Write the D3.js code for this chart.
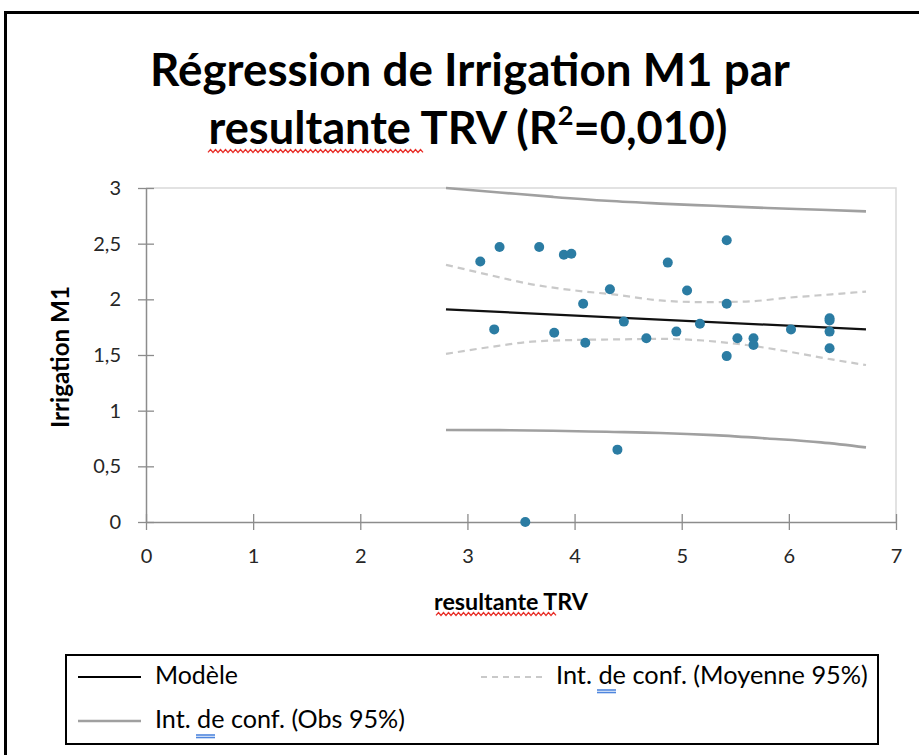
<!DOCTYPE html>
<html>
<head>
<meta charset="utf-8">
<script src="https://cdn.jsdelivr.net/npm/d3@7/dist/d3.min.js"></script>
<style>
  html, body { margin: 0; padding: 0; background: #fff; }
  svg { display: block; }
</style>
</head>
<body>
<svg id="chart" width="919" height="755"></svg>
<script>
// Observations: resultante TRV (x) vs Irrigation M1 (y)
const obsX = [3.12, 3.30, 3.67, 3.90, 3.97, 4.87, 4.33, 4.08, 3.25, 3.81, 4.10, 4.46, 4.67, 4.95,
              5.42, 5.05, 5.42, 5.17, 5.52, 5.67, 5.67, 5.42, 6.02, 6.38, 6.38, 6.38, 6.38, 4.40, 3.54];
const obsY = [2.34, 2.47, 2.47, 2.40, 2.41, 2.33, 2.09, 1.96, 1.73, 1.70, 1.61, 1.80, 1.65, 1.71,
              2.53, 2.08, 1.96, 1.78, 1.65, 1.65, 1.59, 1.49, 1.73, 1.83, 1.81, 1.71, 1.56, 0.65, 0.00];

// Fitted model line
const modelX = [2.80, 6.72];
const modelY = [1.91, 1.73];

// Confidence band for the mean (95%)
const meanCIX = [2.80, 3.20, 3.60, 4.00, 4.40, 4.80, 5.20, 5.60, 6.00, 6.40, 6.72];
const meanUpper = [2.31, 2.22, 2.135, 2.08, 2.04, 1.99, 1.975, 1.98, 2.015, 2.045, 2.07];
const meanLower = [1.51, 1.57, 1.62, 1.635, 1.64, 1.645, 1.63, 1.59, 1.53, 1.46, 1.41];

// Confidence band for observations (95%)
const obsCIX = [2.80, 3.30, 3.80, 4.30, 4.80, 5.30, 5.80, 6.30, 6.72];
const obsUpper = [3.00, 2.96, 2.92, 2.885, 2.86, 2.84, 2.82, 2.805, 2.79];
const obsLower = [0.826, 0.825, 0.82, 0.81, 0.80, 0.78, 0.75, 0.715, 0.67];

// Axis ticks
const xTicks = [0, 1, 2, 3, 4, 5, 6, 7];
const yTicks = [0, 0.5, 1, 1.5, 2, 2.5, 3];

const titleLines = ["Régression de Irrigation M1 par", "resultante TRV (R²=0,010)"];
const xTitle = "resultante TRV";
const yTitle = "Irrigation M1";
const legendLabels = ["Modèle", "Int. de conf. (Moyenne 95%)", "Int. de conf. (Obs 95%)"];

const FONT = "Lato, 'Open Sans', sans-serif";
const svg = d3.select("#chart");
const frFormat = d3.formatLocale({decimal: ",", thousands: " ", grouping: [3], currency: ["", " €"]}).format("~g");

// fit a text element to a given pixel width by scaling its font size
function fitWidth(sel, width) {
  const node = sel.node();
  const fs = parseFloat(sel.attr("font-size"));
  const w = node.getComputedTextLength();
  if (w > 0) sel.attr("font-size", (fs * width / w).toFixed(2));
  return sel;
}

// outer frame
svg.append("rect").attr("x", 0).attr("y", 0).attr("width", 919).attr("height", 755).attr("fill", "#fff");
svg.append("rect").attr("x", 5.5).attr("y", 12.5).attr("width", 930).attr("height", 760)
  .attr("fill", "none").attr("stroke", "#000").attr("stroke-width", 3);

// title
const titleCx = [470, 468];
const titleY = [86, 144];
const titleW = [640, 519];
titleLines.forEach((t, i) => {
  const el = svg.append("text").attr("x", titleCx[i]).attr("y", titleY[i])
    .attr("text-anchor", "middle").attr("font-family", FONT).attr("font-weight", "bold")
    .attr("font-size", 48).attr("fill", "#000");
  if (i === 1) {
    el.append("tspan").text("resultante TRV (R");
    el.append("tspan").attr("font-size", "0.6em").attr("dy", "-0.7em").text("2");
    el.append("tspan").attr("dy", "0.42em").text("=0,010)");
  } else {
    el.text(t);
  }
  fitWidth(el, titleW[i]);
});

// spell-check style squiggle
function squiggle(x0, x1, y, color) {
  const pts = [];
  const step = 2.5;
  for (let x = x0, k = 0; x <= x1; x += step, k++) pts.push([x, y + (k % 2 ? -1.4 : 1.4)]);
  svg.append("path").attr("d", d3.line()(pts)).attr("fill", "none")
    .attr("stroke", color).attr("stroke-width", 1.3);
}
squiggle(208, 424, 151, "#e8302a");

// scales
const x = d3.scaleLinear().domain([0, 7]).range([146, 896]);
const y = d3.scaleLinear().domain([0, 3]).range([522, 188]);

// plot area border (top / right)
svg.append("path").attr("d", `M${x(0)},${y(3)}H${x(7)}V${y(0)}`)
  .attr("fill", "none").attr("stroke", "#d9d9d9").attr("stroke-width", 1.5);

// axes
const axisColor = "#8c8c8c";
const gx = svg.append("g").attr("transform", `translate(0,${y(0)})`)
  .call(d3.axisBottom(x).tickValues(xTicks).tickFormat(frFormat).tickSizeInner(8).tickSizeOuter(0).tickPadding(26));
const gy = svg.append("g").attr("transform", `translate(${x(0)},0)`)
  .call(d3.axisLeft(y).tickValues(yTicks).tickFormat(frFormat).tickSizeInner(8).tickSizeOuter(0).tickPadding(17));
[gx, gy].forEach(g => {
  g.select(".domain").attr("stroke", axisColor).attr("stroke-width", 1.5);
  g.selectAll(".tick line").attr("stroke", axisColor).attr("stroke-width", 1.3);
  g.selectAll(".tick text").attr("font-family", FONT).attr("font-size", 20).attr("fill", "#262626");
});
gx.selectAll(".tick line").attr("y1", -8).attr("y2", 8);
gy.selectAll(".tick line").attr("x1", -8).attr("x2", 8);
gx.selectAll(".tick text").attr("dy", "0.35em");

// axis titles
const xt = svg.append("text").attr("x", 511).attr("y", 610).attr("text-anchor", "middle")
  .attr("font-family", FONT).attr("font-weight", "bold").attr("font-size", 18).attr("fill", "#000").text(xTitle);
fitWidth(xt, 154);
squiggle(436, 556, 614, "#e8302a");
const yt = svg.append("text").attr("transform", `translate(69,${357}) rotate(-90)`).attr("text-anchor", "middle")
  .attr("font-family", FONT).attr("font-weight", "bold").attr("font-size", 18).attr("fill", "#000").text(yTitle);
fitWidth(yt, 142);

// curves
const lineGen = d3.line().x(d => x(d[0])).y(d => y(d[1])).curve(d3.curveMonotoneX);
const zip = (xs, ys) => xs.map((v, i) => [v, ys[i]]);
const obsColor = "#a0a0a0";
const meanColor = "#c9c9c9";
[obsUpper, obsLower].forEach(arr => {
  svg.append("path").attr("d", lineGen(zip(obsCIX, arr))).attr("fill", "none")
    .attr("stroke", obsColor).attr("stroke-width", 2.6);
});
[meanUpper, meanLower].forEach(arr => {
  svg.append("path").attr("d", lineGen(zip(meanCIX, arr))).attr("fill", "none")
    .attr("stroke", meanColor).attr("stroke-width", 2.2).attr("stroke-dasharray", "7,5");
});
svg.append("path").attr("d", lineGen(zip(modelX, modelY))).attr("fill", "none")
  .attr("stroke", "#111").attr("stroke-width", 2.2);

// points
svg.append("g").selectAll("circle").data(zip(obsX, obsY)).join("circle")
  .attr("cx", d => x(d[0])).attr("cy", d => y(d[1])).attr("r", 5)
  .attr("fill", "#2b7ca3");

// legend
svg.append("rect").attr("x", 66).attr("y", 655).attr("width", 812).attr("height", 89)
  .attr("fill", "#fff").attr("stroke", "#000").attr("stroke-width", 2);
const legendItems = [
  {sx: 78, tx: 155, y: 677, w: 83, stroke: "#000", sw: 2.2, dash: null},
  {sx: 481, tx: 556, y: 677, w: 312, stroke: meanColor, sw: 2.2, dash: "6,5"},
  {sx: 78, tx: 155, y: 721, w: 250, stroke: obsColor, sw: 2.6, dash: null}
];
legendItems.forEach((it, i) => {
  svg.append("line").attr("x1", it.sx).attr("x2", it.sx + 63).attr("y1", it.y).attr("y2", it.y)
    .attr("stroke", it.stroke).attr("stroke-width", it.sw).attr("stroke-dasharray", it.dash);
  const t = svg.append("text").attr("x", it.tx).attr("y", it.y + 7)
    .attr("font-family", FONT).attr("font-size", 20).attr("fill", "#000").text(legendLabels[i]);
  fitWidth(t, it.w);
});
// double underline under "de"
function doubleUnderline(x0, x1, yy) {
  [0, 2.5].forEach(o => svg.append("line").attr("x1", x0).attr("x2", x1).attr("y1", yy + o).attr("y2", yy + o)
    .attr("stroke", "#4f86de").attr("stroke-width", 1.6));
}
doubleUnderline(597, 616, 690);
doubleUnderline(196, 215, 735);
</script>
</body>
</html>
